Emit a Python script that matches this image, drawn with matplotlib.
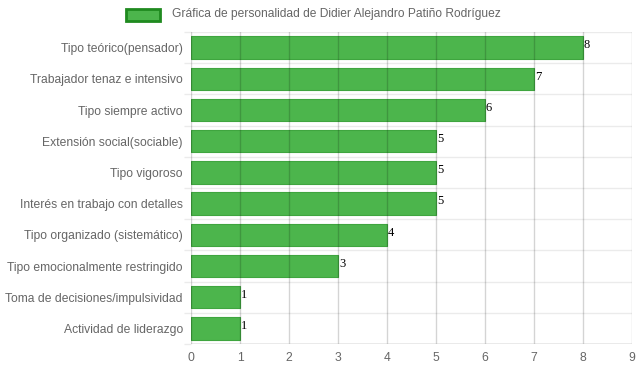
import matplotlib
matplotlib.use("Agg")
import matplotlib.pyplot as plt
from matplotlib.patches import Rectangle
import numpy as np

categories = ["Tipo teórico(pensador)", "Trabajador tenaz e intensivo", "Tipo siempre activo",
              "Extensión social(sociable)", "Tipo vigoroso", "Interés en trabajo con detalles",
              "Tipo organizado (sistemático)", "Tipo emocionalmente restringido",
              "Toma de decisiones/impulsividad", "Actividad de liderazgo"]
values = [8, 7, 6, 5, 5, 5, 4, 3, 1, 1]
xticks = list(range(0, 10))
legend_label = "Gráfica de personalidad de Didier Alejandro Patiño Rodríguez"

W, H = 639, 372
fig = plt.figure(figsize=(W/100, H/100), dpi=100)
ax = fig.add_axes([191/W, 1-344/H, (632-191)/W, (344-32)/H])

n = len(categories)
ypos = np.arange(n)
face = "#4CB54C"
edge = "#3FA53F"
ax.barh(ypos, values, height=0.72, color=face, edgecolor=edge, linewidth=0.8, zorder=3)
ax.set_ylim(n-0.5, -0.5)
ax.set_xlim(0, 9)
ax.set_xticks(xticks)
ax.set_xticklabels([str(t) for t in xticks])
ax.set_yticks(ypos)
ax.set_yticklabels(categories)
ax.set_yticks(np.arange(-0.5, n, 1.0), minor=True)

# grid
for x in xticks:
    ax.axvline(x, color="black", alpha=0.17, lw=1, zorder=4)
for b in np.arange(-0.5, n, 1.0):
    ax.axhline(b, color="#ebebeb", lw=1, zorder=1)
for s in ax.spines.values():
    s.set_visible(False)
ax.axhline(n-0.5, color="#a8a8a8", lw=1, zorder=5)

ax.tick_params(axis="y", which="major", length=0, labelsize=8.7, labelcolor="#666666", pad=5.8)
ax.tick_params(axis="y", which="minor", length=5, color="#ebebeb", width=1)
ax.tick_params(axis="x", length=0, labelsize=8.7, labelcolor="#666666", pad=6)
for lab in ax.get_xticklabels() + ax.get_yticklabels():
    lab.set_fontfamily("Liberation Sans")

for y, v in zip(ypos, values):
    ax.text(v + 0.02, y - 0.07, str(v), fontsize=9, family="Liberation Serif",
            color="#000000", va="center", ha="left", zorder=6)

# legend
fig.patches.append(Rectangle((126/W, 1-21/H), 34/W, 12/H, transform=fig.transFigure,
                             facecolor=face, edgecolor="#1f8a1f", linewidth=2))
fig.text(172/W, 1-14.5/H, legend_label, fontsize=8.65, family="Liberation Sans",
         color="#666666", va="center", ha="left")

fig.savefig("out.png", dpi=100, facecolor="white")
